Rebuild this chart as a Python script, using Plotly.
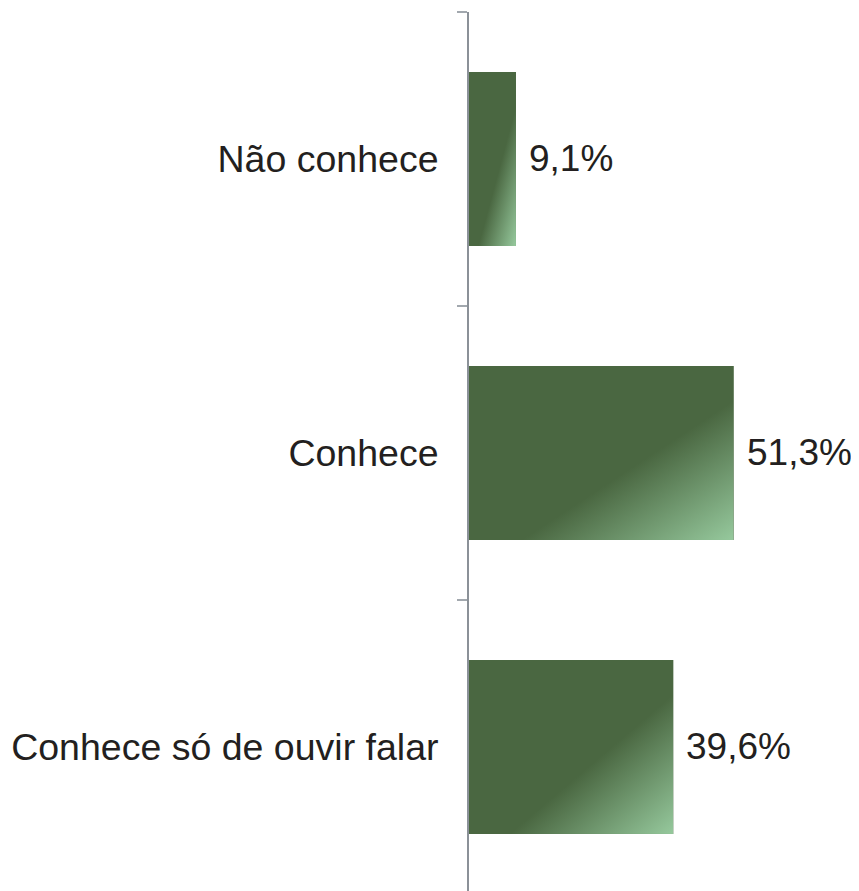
import base64
import plotly.graph_objects as go

categories = ["Não conhece", "Conhece", "Conhece só de ouvir falar"]
values = [9.1, 51.3, 39.6]
labels = ["9,1%", "51,3%", "39,6%"]

DARK = "#4a6741"
LIGHT = "#96c99d"
BAR_W = 0.592
FONT = "Liberation Sans, Arial, sans-serif"

svg = (
    "<svg xmlns='http://www.w3.org/2000/svg' width='100' height='100' "
    "preserveAspectRatio='none' viewBox='0 0 100 100'>"
    "<defs><linearGradient id='g' x1='0' y1='0' x2='1' y2='1'>"
    f"<stop offset='0' stop-color='{DARK}'/>"
    f"<stop offset='0.6' stop-color='{DARK}'/>"
    f"<stop offset='1' stop-color='{LIGHT}'/>"
    "</linearGradient></defs>"
    "<rect width='100' height='100' fill='url(#g)'/></svg>"
)
grad_src = "data:image/svg+xml;base64," + base64.b64encode(svg.encode()).decode()

fig = go.Figure()
fig.add_trace(go.Bar(
    x=values, y=categories, orientation="h",
    width=BAR_W, marker=dict(color=DARK, line=dict(width=0)),
    hoverinfo="skip",
))

images = []
annotations = []
for i, (v, lab) in enumerate(zip(values, labels)):
    images.append(dict(
        source=grad_src, xref="x", yref="y",
        x=0, y=i - BAR_W / 2, sizex=v, sizey=BAR_W,
        xanchor="left", yanchor="top", sizing="stretch", layer="above",
    ))
    annotations.append(dict(
        x=v, y=categories[i], xref="x", yref="y", text=lab, showarrow=False,
        xanchor="left", yanchor="middle", xshift=11,
        font=dict(family=FONT, size=37, color="#231f20"),
    ))

fig.update_layout(
    width=851, height=883,
    margin=dict(l=461, r=0, t=4, b=0),
    paper_bgcolor="white", plot_bgcolor="white",
    showlegend=False,
    images=images,
    annotations=annotations,
    xaxis=dict(range=[0, 75.6], visible=False, fixedrange=True),
    yaxis=dict(
        type="category",
        categoryorder="array", categoryarray=categories,
        range=[2.49, -0.5],
        showgrid=False, zeroline=False,
        showline=True, linecolor="#8b9198", linewidth=2,
        ticks="outside", ticklen=10, tickwidth=2, tickcolor="#a2a8ae",
        tickson="boundaries",
        ticklabelstandoff=21,
        tickfont=dict(family=FONT, size=37.5, color="#231f20"),
    ),
)

fig.write_html("out.html")
